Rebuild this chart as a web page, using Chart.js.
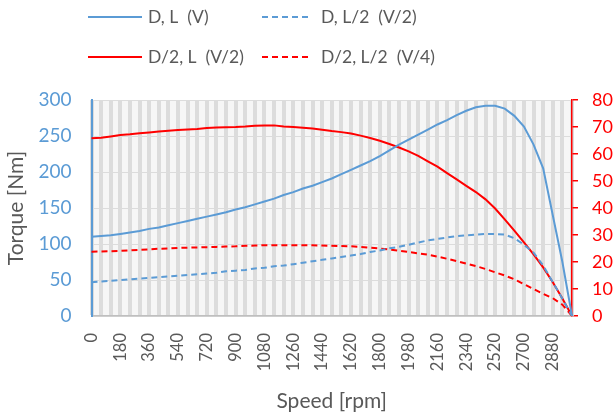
<!DOCTYPE html>
<html>
<head>
<meta charset="utf-8">
<script src="https://cdn.jsdelivr.net/npm/chart.js@4"></script>
<style>
html,body{margin:0;padding:0;background:#ffffff;}
#c{display:block;}
</style>
</head>
<body>
<canvas id="c" width="615" height="414"></canvas>
<script>
// ---- data ----
const speedRpm = [0,60,120,180,240,300,360,420,480,540,600,660,720,780,840,900,960,1020,1080,1140,1200,1260,1320,1380,1440,1500,1560,1620,1680,1740,1800,1860,1920,1980,2040,2100,2160,2220,2280,2340,2400,2460,2520,2580,2640,2700,2760,2820,2880,2940,3000];
const xTickLabels = ['0','180','360','540','720','900','1080','1260','1440','1620','1800','1980','2160','2340','2520','2700','2880'];
const leftTicks = [0,50,100,150,200,250,300];
const rightTicks = [0,10,20,30,40,50,60,70,80];

// Left axis (Torque [Nm])
const torqueDL = [110,111,112,114,116,118,121,123,126,129,132,135,138,141,144,148,151,155,159,163,168,172,177,181,186,191,197,203,209,215,222,230,238,245,252,259,266,272,279,285,290,292,292,288,278,263,238,205,140,75,0];
const torqueDL2 = [47,48,49,50,51,52,53,54,55,56,57,58,59,60,62,63,64,66,67,69,70,72,74,76,78,80,82,84,86,89,91,94,96,99,102,105,107,109,111,112,113,114,114,113,108,99,88,70,47,24,0];
// Right axis
const torqueD2L = [65.8,66,66.5,67,67.3,67.7,68,68.3,68.6,68.9,69.1,69.3,69.6,69.8,69.9,70,70.2,70.5,70.6,70.6,70.2,70,69.7,69.4,69,68.5,68.1,67.6,66.8,65.9,64.9,63.7,62.4,61,59.3,57.3,55.3,52.9,50.6,48.2,45.9,43.2,39.8,35.8,31.6,27.3,22.8,18,12.5,6.5,0];
const torqueD2L2 = [23.8,23.9,24,24.1,24.3,24.5,24.7,24.9,25,25.2,25.3,25.4,25.5,25.6,25.7,25.8,26,26.1,26.2,26.2,26.2,26.2,26.2,26.2,26.1,26,25.9,25.8,25.6,25.3,25,24.6,24.2,23.7,23.2,22.7,22,21.2,20.3,19.4,18.5,17.4,16.2,15,13.6,11.8,10,8.2,6.6,4.2,0];

const seriesNames = ['D, L  (V)','D, L/2  (V/2)','D/2, L  (V/2)','D/2, L/2  (V/4)'];

const BLUE = '#5B9BD5';
const RED = '#FF0000';
const GRAY_TEXT = '#595959';
const FONT = 'Lato, "Open Sans", sans-serif';

const plotBg = {
  id: 'plotBg',
  beforeDraw(chart) {
    const {ctx, chartArea: a} = chart;
    ctx.save();
    ctx.fillStyle = '#f6f6f6';
    ctx.fillRect(a.left, a.top, a.right - a.left, a.bottom - a.top);
    ctx.restore();
  }
};

const customLegend = {
  id: 'customLegend',
  afterDraw(chart) {
    const ctx = chart.ctx;
    const pos = [
      {lx: 88, lw: 54, tx: 148, y: 17},
      {lx: 262, lw: 50, tx: 321, y: 17},
      {lx: 88, lw: 54, tx: 148, y: 57},
      {lx: 262, lw: 50, tx: 321, y: 57}
    ];
    ctx.save();
    chart.data.datasets.forEach((ds, i) => {
      const p = pos[i];
      ctx.strokeStyle = ds.borderColor;
      ctx.lineWidth = 2;
      ctx.setLineDash(ds.borderDash || []);
      ctx.beginPath();
      ctx.moveTo(p.lx, p.y);
      ctx.lineTo(p.lx + p.lw, p.y);
      ctx.stroke();
      ctx.setLineDash([]);
      ctx.fillStyle = GRAY_TEXT;
      ctx.font = '17.5px ' + FONT;
      ctx.textBaseline = 'middle';
      ctx.textAlign = 'left';
      ctx.fillText(ds.label, p.tx, p.y);
    });
    ctx.restore();
  }
};

new Chart(document.getElementById('c'), {
  type: 'line',
  data: {
    labels: speedRpm.map(String),
    datasets: [
      {label: seriesNames[0], data: torqueDL, borderColor: BLUE, borderWidth: 2, yAxisID: 'y'},
      {label: seriesNames[1], data: torqueDL2, borderColor: BLUE, borderWidth: 2, borderDash: [6,4], yAxisID: 'y'},
      {label: seriesNames[2], data: torqueD2L, borderColor: RED, borderWidth: 2, yAxisID: 'y2'},
      {label: seriesNames[3], data: torqueD2L2, borderColor: RED, borderWidth: 2, borderDash: [6,4], yAxisID: 'y2'}
    ]
  },
  options: {
    responsive: false,
    animation: false,
    layout: {padding: {top: 100, left: 0, right: 0, bottom: 0}},
    elements: {point: {radius: 0}, line: {tension: 0, fill: false}},
    plugins: {legend: {display: false}, tooltip: {enabled: false}},
    scales: {
      x: {
        type: 'category',
        offset: false,
        afterFit(s) { s.height = 98; },
        grid: {color: '#dcdcdc', lineWidth: 4, drawTicks: false},
        border: {color: '#bfbfbf', width: 1.5},
        ticks: {
          autoSkip: false, maxRotation: 90, minRotation: 90, padding: 17,
          color: GRAY_TEXT, font: {family: FONT, size: 16.5},
          callback(value) {
            const l = this.getLabelForValue(value);
            return xTickLabels.includes(l) ? l : '';
          }
        },
        title: {display: true, text: 'Speed [rpm]', color: GRAY_TEXT, font: {family: FONT, size: 21}, padding: {top: 0, bottom: 0}}
      },
      y: {
        position: 'left', min: 0, max: 300,
        afterFit(s) { s.width = 91.5; },
        afterBuildTicks(s) { s.ticks = leftTicks.map(v => ({value: v})); },
        grid: {color: '#dcdcdc', lineWidth: 1, drawTicks: false},
        border: {color: BLUE, width: 2},
        ticks: {color: BLUE, padding: 20, font: {family: FONT, size: 19}},
        title: {display: true, text: 'Torque [Nm]', color: GRAY_TEXT, font: {family: FONT, size: 21}, padding: {top: 4, bottom: 0}}
      },
      y2: {
        position: 'right', min: 0, max: 80,
        afterFit(s) { s.width = 43; },
        afterBuildTicks(s) { s.ticks = rightTicks.map(v => ({value: v})); },
        grid: {drawOnChartArea: false, color: RED, tickLength: 6, lineWidth: 1.5},
        border: {color: RED, width: 1.5},
        ticks: {color: RED, padding: 14, font: {family: FONT, size: 18}}
      }
    }
  },
  plugins: [plotBg, customLegend]
});
</script>
</body>
</html>
